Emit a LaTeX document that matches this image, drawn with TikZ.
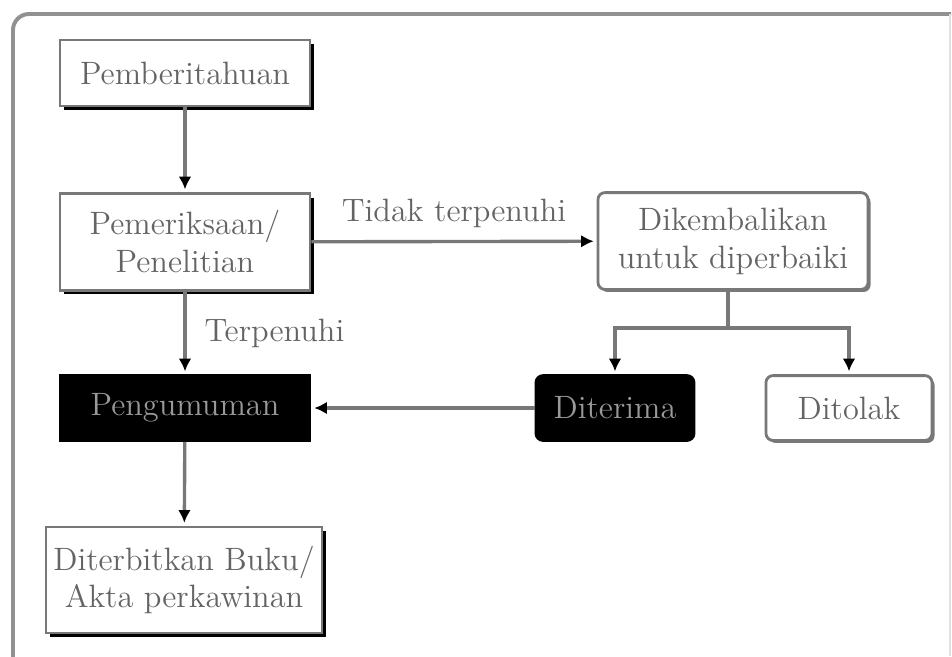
\documentclass[tikz,border=0pt]{standalone}
\usepackage{tikz}
\usetikzlibrary{positioning,shadows,arrows.meta}
\definecolor{txtgray}{RGB}{100,100,100}
\definecolor{linegray}{RGB}{120,120,120}
\definecolor{framegray}{RGB}{145,145,145}
\tikzset{
  base/.style={draw=linegray,line width=1pt,fill=white,text=txtgray,align=center,inner sep=2pt},
  box/.style={base,drop shadow={shadow xshift=1.4pt,shadow yshift=-1.4pt,fill=black,opacity=1}},
  rbox/.style={base,rounded corners=2.5pt,drop shadow={shadow xshift=0.9pt,shadow yshift=-0.9pt,fill=linegray,opacity=1}},
  dbox/.style={base,draw=black,fill=black,text=black!40},
  flow/.style={draw=linegray,line width=1.2pt,shorten >=1pt,-{Latex[length=4.5pt,width=4.5pt,color=black]}},
  lbl/.style={text=txtgray},
}

\begin{document}
\begin{tikzpicture}[x=0.0125cm,y=-0.0125cm,font=\fontsize{11.5}{13.5}\selectfont]
  \useasboundingbox (0,0) rectangle (952,656);
  % frame
  \draw[framegray,line width=1.4pt,rounded corners=0.2cm] (13,660) -- (13,14) -- (951,14);
  \draw[black!12,line width=0.6pt] (950,14) -- (950,656);

  \node[box,minimum width=3.125cm,minimum height=0.825cm] (pem) at (185,73) {Pemberitahuan};
  \node[box,minimum width=3.125cm,minimum height=1.21cm] (periksa) at (185,242) {Pemeriksaan/\\Penelitian};
  \node[rbox,minimum width=3.375cm,minimum height=1.21cm] (kembali) at (733,241) {Dikembalikan\\untuk diperbaiki};
  \node[dbox,minimum width=3.125cm,minimum height=0.81cm] (umum) at (185,408) {Pengumuman};
  \node[dbox,rounded corners=2.5pt,minimum width=1.975cm,minimum height=0.81cm] (terima) at (615,408) {Diterima};
  \node[rbox,minimum width=2.075cm,minimum height=0.81cm] (tolak) at (849,408) {Ditolak};
  \node[box,minimum width=3.45cm,minimum height=1.325cm] (terbit) at (184,580) {Diterbitkan Buku/\\Akta perkawinan};

  \draw[flow] (pem) -- (periksa);
  \draw[flow] (periksa) -- node[lbl,above=1pt] {Tidak terpenuhi} (kembali);
  \draw[flow] (periksa) -- node[lbl,right=3pt] {Terpenuhi} (umum);
  \coordinate (split) at (728,328);
  \draw[linegray,line width=1.2pt] (kembali.south -| split) -- (split);
  \draw[flow] (split) -| (terima);
  \draw[flow] (split) -| (tolak);
  \draw[flow] (terima) -- (umum);
  \draw[flow] (umum) -- (terbit);
\end{tikzpicture}
\end{document}
